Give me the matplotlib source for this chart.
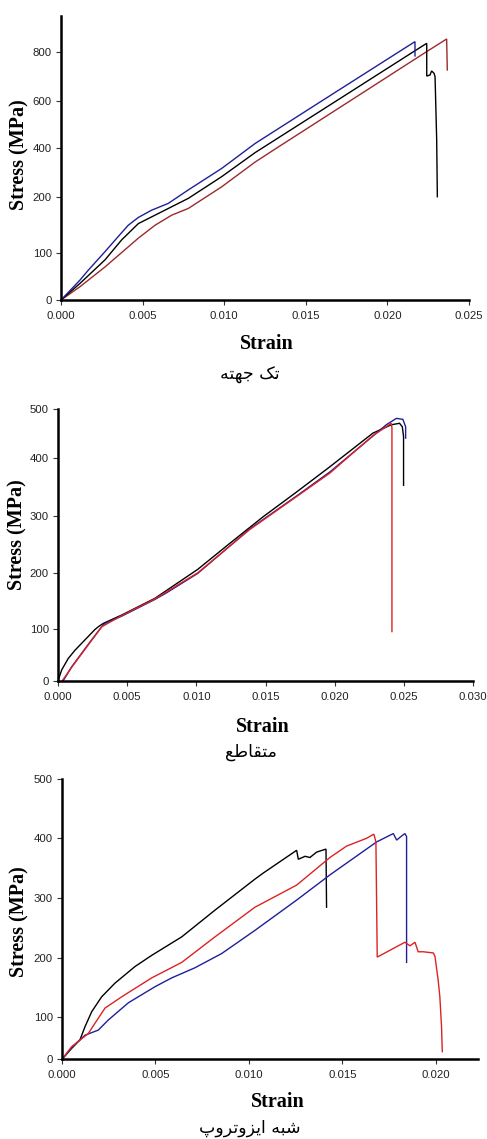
import numpy as np
import matplotlib
matplotlib.use("Agg")
import matplotlib.pyplot as plt

# ---------------- data (strain, stress in MPa) ----------------
# Panel 1: unidirectional
uni_blue_strain = [0, 0.00116, 0.00167, 0.0027, 0.00351, 0.00412, 0.00474, 0.00556, 0.00657, 0.0078,
                   0.00985, 0.01189, 0.0160, 0.02066, 0.02169, 0.02169]
uni_blue_stress = [0, 42, 63, 102, 129, 149, 163, 176, 188, 228, 317, 420, 600, 800, 844, 785]
uni_black_strain = [0, 0.00116, 0.0027, 0.00372, 0.00474, 0.00576, 0.00678, 0.0078, 0.00985, 0.01189,
                    0.01231, 0.01689, 0.02154, 0.02241, 0.02241, 0.02261, 0.02271, 0.02286, 0.02292,
                    0.02302, 0.02306]
uni_black_stress = [0, 35, 85, 123, 152, 167, 182, 197, 283, 382, 400, 600, 800, 837, 702, 706, 723, 713,
                    699, 435, 200]
uni_red_strain = [0, 0.00116, 0.0027, 0.00474, 0.00576, 0.00678, 0.0078, 0.00985, 0.01189, 0.01319,
                  0.01773, 0.02234, 0.02363, 0.02367]
uni_red_stress = [0, 28, 70, 126, 149, 167, 179, 241, 343, 400, 600, 800, 855, 727]

# Panel 2: cross-ply
cross_black_strain = [0, 0.00027, 0.00074, 0.00123, 0.00195, 0.00267, 0.00291, 0.00327, 0.0046, 0.007,
                      0.01011, 0.01242, 0.01482, 0.01723, 0.01964, 0.02276, 0.02409, 0.02469, 0.02489,
                      0.02498, 0.02498]
cross_black_stress = [0, 21, 43, 59, 79, 99, 104, 110, 125, 155, 207, 252, 298, 341, 385, 451, 468, 471,
                      464, 444, 353]
cross_blue_strain = [0.00038, 0.00099, 0.00171, 0.00243, 0.00316, 0.00339, 0.0046, 0.007, 0.00785,
                     0.01011, 0.01386, 0.01723, 0.01964, 0.02276, 0.02373, 0.02446, 0.02493, 0.02513,
                     0.02513]
cross_blue_stress = [0, 27, 53, 79, 104, 110, 123, 153, 165, 200, 277, 334, 376, 445, 468, 481, 479, 464,
                     441]
cross_red_strain = [0.00031, 0.00099, 0.00171, 0.00243, 0.00316, 0.0046, 0.007, 0.01011, 0.01386,
                    0.01723, 0.01964, 0.02276, 0.02373, 0.02409, 0.02414, 0.02414]
cross_red_stress = [0, 26, 52, 78, 104, 124, 154, 201, 276, 333, 374, 446, 464, 471, 462, 95]

# Panel 3: quasi-isotropic
qi_black_strain = [0, 0.00052, 0.00096, 0.00123, 0.00159, 0.00212, 0.00283, 0.0039, 0.0048, 0.0064,
                   0.00818, 0.01032, 0.01076, 0.01255, 0.01264, 0.013, 0.01326, 0.01362, 0.01412, 0.01415]
qi_black_stress = [0, 26, 46, 77, 109, 134, 157, 185, 204, 235, 280, 332, 342, 380, 365, 370, 368, 377,
                   382, 285]
qi_red_strain = [0, 0.00052, 0.00141, 0.00176, 0.0023, 0.00319, 0.0048, 0.0064, 0.00818, 0.01032,
                 0.01255, 0.01433, 0.01522, 0.01629, 0.01668, 0.01679, 0.01686, 0.01834, 0.01861,
                 0.01888, 0.01905, 0.01932, 0.01986, 0.01995, 0.02012, 0.02021, 0.0203, 0.02034]
qi_red_stress = [0, 30, 61, 85, 115, 134, 166, 192, 235, 285, 322, 368, 387, 400, 407, 394, 201, 226,
                 220, 226, 210, 210, 208, 202, 162, 134, 77, 18]
qi_blue_strain = [0, 0.00052, 0.00123, 0.00194, 0.00248, 0.00355, 0.00497, 0.00587, 0.00711, 0.00854,
                  0.01032, 0.01255, 0.01433, 0.01683, 0.01772, 0.0179, 0.01817, 0.01834, 0.01843, 0.01843]
qi_blue_stress = [0, 28, 57, 69, 93, 124, 151, 166, 183, 207, 246, 297, 339, 394, 408, 397, 404, 408,
                  403, 192]

# tick labels of each panel's stress axis (the printed axes are unevenly graduated)
y1_ticks = [0, 100, 200, 400, 600, 800]
y1_tick_gaps = [0, 47.3, 103.3, 151.7, 199.3, 247.7]
y2_ticks = [0, 100, 200, 300, 400, 500]
y2_tick_gaps = [0, 51.7, 107.4, 165.0, 222.4, 271.7]
y3_ticks = [0, 100, 200, 300, 400, 500]
y3_tick_gaps = [0, 42.3, 101.6, 161.0, 221.0, 280.0]

x1_ticks = [0.000, 0.005, 0.010, 0.015, 0.020, 0.025]
x2_ticks = [0.000, 0.005, 0.010, 0.015, 0.020, 0.025, 0.030]
x3_ticks = [0.000, 0.005, 0.010, 0.015, 0.020]

captions = ["تک جهته", "متقاطع", "شبه ایزوتروپ"]

# ---------------- helpers ----------------
FORMS = {
    'ت': ('\uFE95', '\uFE96', '\uFE97', '\uFE98'),
    'ک': ('\uFB8E', '\uFB8F', '\uFB90', '\uFB91'),
    'ج': ('\uFE9D', '\uFE9E', '\uFE9F', '\uFEA0'),
    'ه': ('\uFEE9', '\uFEEA', '\uFEEB', '\uFEEC'),
    'م': ('\uFEE1', '\uFEE2', '\uFEE3', '\uFEE4'),
    'ق': ('\uFED5', '\uFED6', '\uFED7', '\uFED8'),
    'ا': ('\uFE8D', '\uFE8E', None, None),
    'ط': ('\uFEC1', '\uFEC2', '\uFEC3', '\uFEC4'),
    'ع': ('\uFEC9', '\uFECA', '\uFECB', '\uFECC'),
    'ش': ('\uFEB5', '\uFEB6', '\uFEB7', '\uFEB8'),
    'ب': ('\uFE8F', '\uFE90', '\uFE91', '\uFE92'),
    'ی': ('\uFBFC', '\uFBFD', '\uFBFE', '\uFBFF'),
    'ز': ('\uFEAF', '\uFEB0', None, None),
    'و': ('\uFEED', '\uFEEE', None, None),
    'ر': ('\uFEAD', '\uFEAE', None, None),
    'پ': ('\uFB56', '\uFB57', '\uFB58', '\uFB59'),
}


def shape_rtl(s):
    out = []
    for i, c in enumerate(s):
        if c not in FORMS:
            out.append(c)
            continue
        f = FORMS[c]
        prev = s[i - 1] if i > 0 else None
        nxt = s[i + 1] if i + 1 < len(s) else None
        jp = prev in FORMS and FORMS[prev][2] is not None
        jn = f[2] is not None and nxt in FORMS
        if jp and jn:
            g = f[3]
        elif jp:
            g = f[1]
        elif jn:
            g = f[2]
        else:
            g = f[0]
        out.append(g)
    return ''.join(reversed(out))


def piecewise_scale(vals, gaps):
    vals = np.asarray(vals, float)
    gaps = np.asarray(gaps, float)

    def make(a, b):
        s_hi = (b[-1] - b[-2]) / (a[-1] - a[-2])
        s_lo = (b[1] - b[0]) / (a[1] - a[0])

        def f(v):
            v = np.asarray(v, float)
            out = np.interp(v, a, b)
            out = np.where(v > a[-1], b[-1] + (v - a[-1]) * s_hi, out)
            out = np.where(v < a[0], b[0] + (v - a[0]) * s_lo, out)
            return out
        return f
    return make(vals, gaps), make(gaps, vals)


W, H = 487, 1139
fig = plt.figure(figsize=(W / 100, H / 100), dpi=100)

TICK_FONT = dict(family="Liberation Sans", size=8.2, color="#222222")
LABEL_FONT = dict(family="Liberation Serif", size=14.5, weight="bold")


def fx(px):
    return px / W


def fy(py):
    return 1 - py / H


def panel(rect_px, series, xticks, xlim, yticks, ygaps, ylim, xlab_px, ylab_px, cap_px, caption):
    l, t, r, b = rect_px
    ax = fig.add_axes([fx(l), fy(b), (r - l) / W, (b - t) / H])
    fwd, inv = piecewise_scale(yticks, ygaps)
    ax.set_yscale("function", functions=(fwd, inv))
    for xs, ys, col in series:
        ax.plot(xs, ys, color=col, lw=1.0, solid_joinstyle="miter")
    ax.set_xlim(*xlim)
    ax.set_ylim(*ylim)
    ax.set_xticks(xticks)
    ax.set_xticklabels([f"{v:.3f}" for v in xticks], **TICK_FONT)
    ax.set_yticks(yticks)
    ax.set_yticklabels([str(v) for v in yticks], **TICK_FONT)
    ax.yaxis.set_minor_locator(matplotlib.ticker.NullLocator())
    for s in ("top", "right"):
        ax.spines[s].set_visible(False)
    for s in ("left", "bottom"):
        ax.spines[s].set_linewidth(1.8)
        ax.spines[s].set_color("black")
    ax.tick_params(axis="x", direction="out", length=3.5, width=0.8, pad=4.5, color="#333333")
    ax.tick_params(axis="y", direction="out", length=3.5, width=0.8, pad=3, color="#333333")
    ax.set_facecolor("none")
    fig.text(fx(xlab_px[0]), fy(xlab_px[1]), "Strain", ha="center", va="center", **LABEL_FONT)
    fig.text(fx(ylab_px[0]), fy(ylab_px[1]), "Stress (MPa)", ha="center", va="center",
             rotation=90, **LABEL_FONT)
    fig.text(fx(cap_px[0]), fy(cap_px[1]), shape_rtl(caption), ha="center", va="center",
             family="DejaVu Sans", size=12.5)
    return ax


BLUE = "#1f1f99"
BROWN = "#9b2a2a"
RED = "#dd2222"

panel((61, 16, 469, 300),
      [(uni_red_strain, uni_red_stress, BROWN),
       (uni_black_strain, uni_black_stress, "black"),
       (uni_blue_strain, uni_blue_stress, BLUE)],
      x1_ticks, (0, 0.025), y1_ticks, y1_tick_gaps, (0, 950),
      (267, 344), (19, 155), (250, 375), captions[0])

panel((58, 409, 473, 680.7),
      [(cross_black_strain, cross_black_stress, "black"),
       (cross_blue_strain, cross_blue_stress, BLUE),
       (cross_red_strain, cross_red_stress, RED)],
      x2_ticks, (0, 0.030), y2_ticks, y2_tick_gaps, (0, 500),
      (263, 727), (17, 535), (251, 752), captions[1])

panel((62, 779.3, 478, 1059.3),
      [(qi_black_strain, qi_black_stress, "black"),
       (qi_blue_strain, qi_blue_stress, BLUE),
       (qi_red_strain, qi_red_stress, RED)],
      x3_ticks, (0, 0.02225), y3_ticks, y3_tick_gaps, (0, 500),
      (278, 1102), (19, 922), (250, 1128), captions[2])

fig.savefig("out.png", dpi=100, facecolor="white")
